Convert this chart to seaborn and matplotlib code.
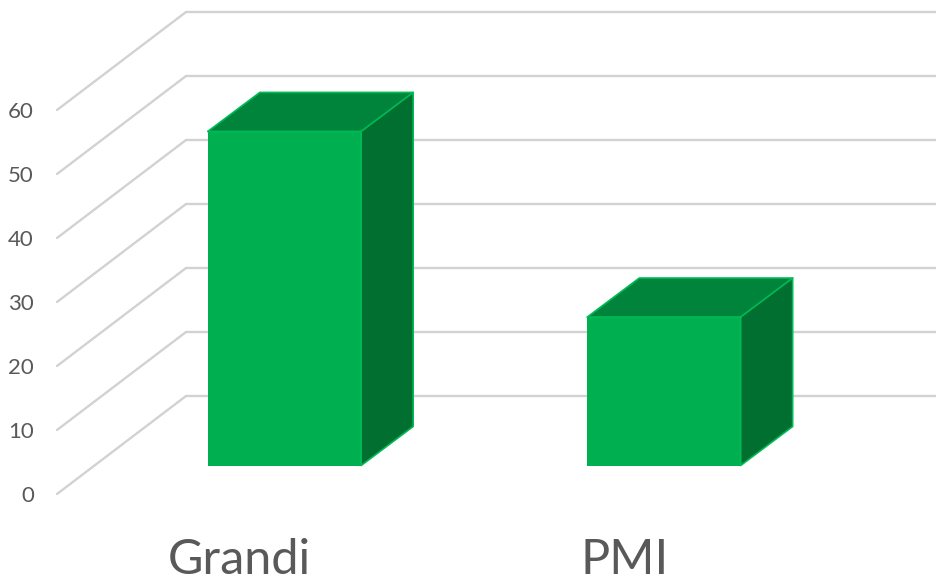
"""3D-style column chart: Grandi vs PMI."""

import matplotlib

matplotlib.use("Agg")
import matplotlib.pyplot as plt
import pandas as pd
import seaborn as sns

categories = ["Grandi", "PMI"]
values = [52.2, 23.2]
y_ticks = [0, 10, 20, 30, 40, 50, 60]

FRONT = "#00B050"
TOP = "#00843C"
SIDE = "#006F30"
EDGE = "#00BB55"
GRID = "#D2D2D2"
TEXT = "#595959"

W, H = 936, 577
PX_Y = 6.4  # pixels per value unit
PX_X = 379.5  # pixels per category
BASE_PX = 465.5
CENTER_PX = 284.5
BAR_W = 0.404
DX, DY = 52 / PX_X, 39 / PX_Y  # bar depth
LABEL_PX = [239.5, 625]

sns.set_theme(style="white")
plt.rcParams["font.family"] = ["Lato", "DejaVu Sans"]

fig = plt.figure(figsize=(W / 100, H / 100), dpi=100)
ax = fig.add_axes([0, 0, 1, 1])

# walls, drawn behind the bars
wall_front_x, wall_back_x = (57 - CENTER_PX) / PX_X, (186 - CENTER_PX) / PX_X
wall_front_off, wall_back_off = (465.5 - 494) / PX_Y, (465.5 - 396) / PX_Y
label_off = (465.5 - 496) / PX_Y
for t in y_ticks:
    ax.plot([wall_front_x, wall_back_x], [t + wall_front_off, t + wall_back_off], color=GRID, lw=1.7, zorder=1)
    ax.plot([wall_back_x, 1.75], [t + wall_back_off] * 2, color=GRID, lw=1.7, zorder=1)
    ax.text((34 - CENTER_PX) / PX_X, t + label_off, str(t), color=TEXT, fontsize=16, ha="right", va="center")

df = pd.DataFrame({"category": categories, "value": values})
sns.barplot(data=df, x="category", y="value", color=FRONT, saturation=1, width=BAR_W, linewidth=0, ax=ax, zorder=3)

for i, v in enumerate(values):
    l, r = i - BAR_W / 2, i + BAR_W / 2
    ax.fill([l, r, r + DX, l + DX], [v, v, v + DY, v + DY], color=TOP, lw=0, zorder=3)
    ax.fill([r, r + DX, r + DX, r], [0, DY, v + DY, v], color=SIDE, lw=0, zorder=3)
    ax.plot([l, r, r + DX, r + DX, r, r], [v, v, v + DY, DY, 0, v], color=EDGE, lw=1.2, zorder=4)
    ax.plot([l, l + DX, r + DX], [v, v + DY, v + DY], color=EDGE, lw=1.2, zorder=4)

for name, px in zip(categories, LABEL_PX):
    ax.text((px - CENTER_PX) / PX_X, (BASE_PX - 574) / PX_Y, name, color=TEXT, fontsize=35, ha="center", va="baseline")

ax.set_xlim(-CENTER_PX / PX_X, (W - CENTER_PX) / PX_X)
ax.set_ylim(-(H - BASE_PX) / PX_Y, BASE_PX / PX_Y)
ax.axis("off")

fig.savefig("out.png", dpi=100)
plt.close(fig)
